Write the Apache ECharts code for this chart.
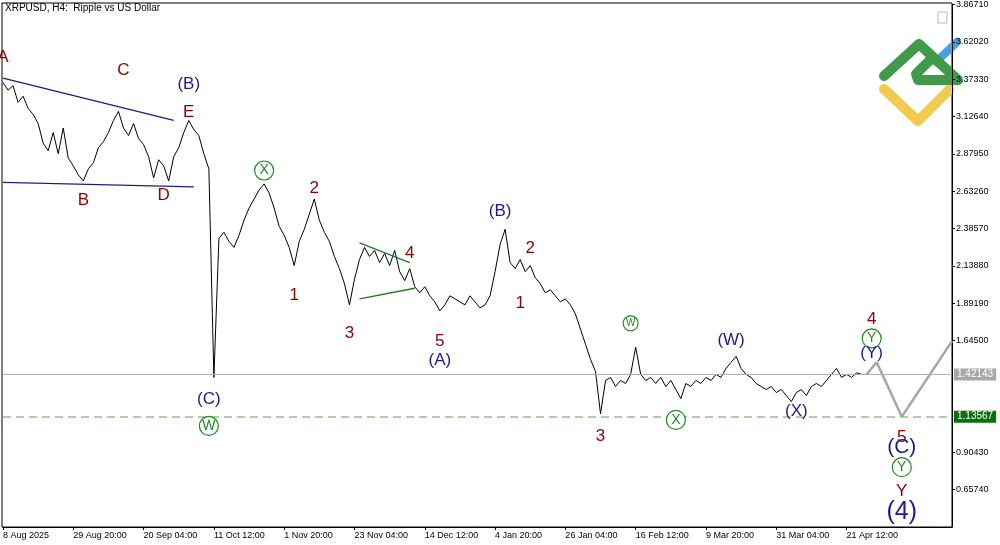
<!DOCTYPE html>
<html>
<head>
<meta charset="utf-8">
<script src="https://cdn.jsdelivr.net/npm/echarts@6/dist/echarts.min.js"></script>
<style>html,body{margin:0;padding:0;background:#fff}#main{width:1000px;height:545px}</style>
</head>
<body>
<div id="main"></div>
<script>
// tick labels
const xTickLabels = ['8 Aug 2025', '29 Aug 20:00', '20 Sep 04:00', '11 Oct 12:00', '1 Nov 20:00', '23 Nov 04:00',
  '14 Dec 12:00', '4 Jan 20:00', '26 Jan 04:00', '16 Feb 12:00', '9 Mar 20:00', '31 Mar 04:00', '21 Apr 12:00'];
const yTickValues = [3.86710, 3.62020, 3.37330, 3.12640, 2.87950, 2.63260, 2.38570, 2.13880, 1.89190, 1.64500, 0.90430, 0.65740];
const barsPerLabel = 14;
const totalBars = 190;

// XRPUSD H4 closes
const prices = [
  3.35, 3.30, 3.33, 3.22, 3.26, 3.18, 3.14, 3.08, 2.95, 2.90, 3.02, 2.88, 3.05, 2.85, 2.80, 2.74, 2.70, 2.78, 2.82, 2.92,
  2.96, 3.02, 3.10, 3.16, 3.05, 3.00, 3.08, 2.98, 2.94, 2.86, 2.72, 2.84, 2.80, 2.70, 2.86, 2.92, 3.02, 3.10, 3.04, 3.00,
  2.88, 2.78, 1.40, 2.32, 2.36, 2.30, 2.26, 2.34, 2.44, 2.52, 2.58, 2.64, 2.68, 2.62, 2.52, 2.40, 2.34, 2.26, 2.14, 2.30,
  2.38, 2.48, 2.58, 2.44, 2.36, 2.30, 2.20, 2.12, 2.02, 1.88, 2.05, 2.18, 2.26, 2.20, 2.24, 2.16, 2.22, 2.14, 2.24, 2.10,
  2.04, 2.12, 2.00, 1.96, 2.00, 1.94, 1.90, 1.84, 1.88, 1.94, 1.92, 1.90, 1.88, 1.94, 1.90, 1.86, 1.88, 1.94, 2.10, 2.28,
  2.38, 2.16, 2.12, 2.18, 2.10, 2.14, 2.06, 2.02, 1.96, 1.98, 1.94, 1.90, 1.92, 1.88, 1.82, 1.72, 1.62, 1.52, 1.44, 1.16,
  1.38, 1.40, 1.34, 1.38, 1.36, 1.42, 1.60, 1.42, 1.38, 1.40, 1.36, 1.40, 1.34, 1.38, 1.32, 1.26, 1.36, 1.34, 1.38, 1.36,
  1.40, 1.38, 1.42, 1.40, 1.46, 1.50, 1.54, 1.46, 1.42, 1.40, 1.36, 1.34, 1.32, 1.34, 1.30, 1.32, 1.28, 1.24, 1.30, 1.32,
  1.28, 1.34, 1.36, 1.34, 1.38, 1.42, 1.46, 1.40, 1.42, 1.40, 1.43, 1.42, 1.42
];
// forecast path [bar, price]
const forecast = [[172, 1.42], [174, 1.50], [179, 1.14], [189, 1.64]];
// trend lines [[bar, price], [bar, price]]
const navyLines = [[[0, 3.38], [34, 3.10]], [[0, 2.69], [38, 2.66]]];
const greenLines = [[[71, 2.29], [81, 2.16]], [[71, 1.92], [82, 1.99]]];
const currentPrice = 1.42143;
const targetLevel = 1.13567;
// wave labels [text, bar, price, kind]
const waveLabels = [
  ['A', 0, 3.52, 'red'], ['C', 23.5, 3.434, 'red'], ['(B)', 36.5, 3.341, 'navy'], ['E', 36.5, 3.155, 'red'],
  ['B', 16, 2.569, 'red'], ['D', 31.5, 2.603, 'red'], ['X', 51.8, 2.769, 'circle'], ['2', 61.8, 2.649, 'red'],
  ['1', 57.6, 1.944, 'red'], ['3', 68.5, 1.691, 'red'], ['4', 80.9, 2.223, 'red'], ['5', 87.3, 1.638, 'red'],
  ['(A)', 86.9, 1.511, 'navy'], ['(B)', 98.6, 2.496, 'navy'], ['2', 104.6, 2.257, 'red'], ['1', 103.2, 1.891, 'red'],
  ['W', 124.9, 1.758, 'circleS'], ['(W)', 144.8, 1.644, 'navy'], ['(C)', 41.4, 1.258, 'navy'], ['W', 41.4, 1.079, 'circle'],
  ['3', 119.3, 1.012, 'red'], ['X', 134.3, 1.119, 'circle'], ['(X)', 157.8, 1.178, 'navy'], ['4', 173.3, 1.784, 'red'],
  ['Y', 173.3, 1.658, 'circle'], ['(Y)', 173.3, 1.558, 'navy'], ['5', 178.9, 1.005, 'red'], ['(C)', 178.9, 0.939, 'navyL'],
  ['Y', 178.9, 0.806, 'circle'], ['Y', 178.9, 0.646, 'red'], ['(4)', 179.3, 0.506, 'navyXL']
];

const categories = [];
for (let i = 0; i < totalBars; i++) {
  categories.push(i % barsPerLabel === 0 && xTickLabels[i / barsPerLabel] ? xTickLabels[i / barsPerLabel] : String(i));
}
function lineData(seg) {
  const d = new Array(totalBars).fill(null);
  seg.forEach(p => { d[p[0]] = p[1]; });
  return d;
}
const font = 'Liberation Sans';
const RED = '#8b0000', NAVY = '#1c1c8c', GREEN = '#1f8a1f';

function markFor(l) {
  const base = { coord: [l[1], l[2]], symbol: 'circle', symbolSize: 1, itemStyle: { color: 'rgba(0,0,0,0)' },
    label: { show: true, formatter: l[0], position: 'inside', fontFamily: font } };
  if (l[3] === 'red') Object.assign(base.label, { color: RED, fontSize: 17 });
  if (l[3] === 'navy') Object.assign(base.label, { color: NAVY, fontSize: 17 });
  if (l[3] === 'navyL') Object.assign(base.label, { color: NAVY, fontSize: 21 });
  if (l[3] === 'navyXL') Object.assign(base.label, { color: NAVY, fontSize: 25 });
  if (l[3] === 'circle' || l[3] === 'circleS') {
    const s = l[3] === 'circle' ? 19 : 15;
    base.symbolSize = s;
    base.itemStyle = { color: '#fff', borderColor: GREEN, borderWidth: 1.2 };
    Object.assign(base.label, { color: GREEN, fontSize: s - 5 });
  }
  return base;
}

const series = [
  {
    type: 'line', data: prices, symbol: 'none', lineStyle: { color: '#000', width: 1 }, z: 3,
    markLine: {
      symbol: 'none', silent: true,
      data: [
        { yAxis: currentPrice, lineStyle: { color: '#b0b0b0', width: 1, type: 'solid' },
          label: { position: 'end', formatter: currentPrice.toFixed(5), color: '#fff', backgroundColor: '#a8a8a8', padding: [1, 3], fontSize: 10, fontFamily: font, distance: 2 } },
        { yAxis: targetLevel, lineStyle: { color: '#8fc48f', width: 1.5, type: [8, 5] },
          label: { position: 'end', formatter: targetLevel.toFixed(5), color: '#fff', backgroundColor: '#0a6e0a', padding: [1, 3], fontSize: 10, fontFamily: font, distance: 2 } }
      ]
    }
  },
  { type: 'line', data: lineData(forecast), connectNulls: true, symbol: 'none', lineStyle: { color: '#a6a6a6', width: 2.5 }, z: 2 }
];
navyLines.forEach(s => series.push({ type: 'line', data: lineData(s), connectNulls: true, symbol: 'none', lineStyle: { color: '#1c1c8c', width: 1.3 } }));
greenLines.forEach(s => series.push({ type: 'line', data: lineData(s), connectNulls: true, symbol: 'none', lineStyle: { color: '#1f7a1f', width: 1.3 } }));
series.push({ type: 'line', data: [], symbol: 'none', z: 10, markPoint: { silent: true, data: waveLabels.map(markFor) } });

const myChart = echarts.init(document.getElementById('main'), null, { renderer: 'canvas' });
const option = {
  animation: false,
  backgroundColor: '#fff',
  grid: { left: 2, right: 48, top: 3, bottom: 18 },
  xAxis: {
    type: 'category', data: categories, boundaryGap: false,
    axisLine: { lineStyle: { color: '#000' } },
    axisTick: { interval: i => i % barsPerLabel === 0 && i / barsPerLabel < xTickLabels.length, length: 3, lineStyle: { color: '#000' } },
    axisLabel: { interval: i => i % barsPerLabel === 0 && i / barsPerLabel < xTickLabels.length, fontSize: 9, fontFamily: font, color: '#000', align: 'left', margin: 4,
      formatter: v => (isNaN(Number(v)) ? v : '') },
    splitLine: { show: false }
  },
  yAxis: {
    type: 'value', position: 'right', min: 0.4105, max: 3.8671, scale: true,
    axisLine: { show: true, lineStyle: { color: '#000' } },
    axisTick: { show: true, length: 3, customValues: yTickValues, lineStyle: { color: '#000' } },
    axisLabel: { customValues: yTickValues, fontSize: 9, fontFamily: font, color: '#000', margin: 4, formatter: v => v.toFixed(5) },
    splitLine: { show: false }
  },
  graphic: [
    { type: 'rect', shape: { x: 2, y: 3, width: 950, height: 524 }, style: { fill: 'none', stroke: '#000', lineWidth: 1 }, silent: true },
    { type: 'text', left: 5, top: 3, style: { text: 'XRPUSD, H4:  Ripple vs US Dollar', fontSize: 10, fontFamily: font, fill: '#000' } },
    { type: 'rect', shape: { x: 938, y: 12, width: 9, height: 11 }, style: { fill: 'none', stroke: '#bbb', lineWidth: 1 } },
    { type: 'polyline', shape: { points: [[936, 62], [957, 42]] }, style: { stroke: '#4a9fe0', lineWidth: 8, lineCap: 'round', fill: 'none' } },
    { type: 'polyline', shape: { points: [[884, 89], [918, 121], [949, 90]] }, style: { stroke: '#f2cb4e', lineWidth: 10, lineCap: 'round', lineJoin: 'round', fill: 'none' } },
    { type: 'polyline', shape: { points: [[884, 76], [919, 44], [958, 80]] }, style: { stroke: '#3f9b4a', lineWidth: 10, lineCap: 'round', lineJoin: 'round', fill: 'none' } },
    { type: 'polyline', shape: { points: [[932, 58], [916, 74], [918, 80], [956, 80]] }, style: { stroke: '#3f9b4a', lineWidth: 10, lineCap: 'round', lineJoin: 'round', fill: 'none' } }
  ],
  series: series
};
myChart.setOption(option);
window.addEventListener('resize', myChart.resize);
</script>
</body>
</html>
